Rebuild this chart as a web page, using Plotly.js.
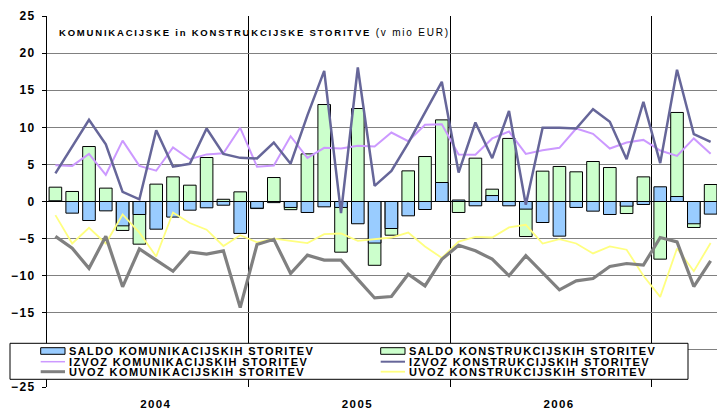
<!DOCTYPE html>
<html><head><meta charset="utf-8">
<script src="https://cdn.plot.ly/plotly-3.0.1.min.js"></script>
<style>
html,body{margin:0;padding:0;background:#fff;}
#chart{width:717px;height:411px;}
.main-svg text{letter-spacing:1.4px;}
.gtitle{letter-spacing:1.8px !important;}
</style></head><body><div id="chart"></div>
<script>
const months = ['2004-01','2004-02','2004-03','2004-04','2004-05','2004-06','2004-07','2004-08','2004-09','2004-10','2004-11','2004-12',
  '2005-01','2005-02','2005-03','2005-04','2005-05','2005-06','2005-07','2005-08','2005-09','2005-10','2005-11','2005-12',
  '2006-01','2006-02','2006-03','2006-04','2006-05','2006-06','2006-07','2006-08','2006-09','2006-10','2006-11','2006-12',
  '2007-01','2007-02','2007-03','2007-04'];
const yearLabels = ['2004','2005','2006'];
const boundaryYears = ['2005','2006','2007'];
const yTicks = [-25,-20,-15,-10,-5,0,5,10,15,20,25];

const saldoKom = [0.1,-1.57,-2.56,-1.26,-3.28,-1.75,-3.73,-2.1,-1.17,-0.85,-0.5,-4.3,
  -0.9,-0.15,-0.8,-1.48,-0.72,-0.8,-3.0,-5.6,-3.64,-1.93,-1.08,2.56,
  0.2,-0.58,0.8,-0.58,-1.03,-2.83,-4.67,-0.8,-1.3,-1.75,-0.63,-0.4,
  1.98,0.67,-3.0,-1.7];
const saldoKon = [1.93,1.35,7.41,1.8,-3.9,-5.75,2.34,3.32,2.2,5.93,0.3,1.3,
  -0.95,3.23,-1.1,6.42,13.07,-6.83,12.53,-8.6,-4.54,4.13,6.06,11.0,
  -1.48,5.84,1.66,8.5,-4.72,4.09,4.72,4.0,5.39,4.58,-1.62,3.32,
  -7.77,12.0,-3.5,2.29];
const izvozKom = [4.9,4.8,6.42,3.6,8.2,4.8,4.15,7.3,5.7,6.35,6.5,9.93,
  4.7,4.85,8.8,5.88,7.23,7.14,7.5,7.4,9.3,8.13,10.33,10.42,
  6.33,6.3,8.5,9.43,6.42,6.92,7.23,9.84,9.12,7.14,7.95,8.3,
  6.87,6.15,8.5,6.42];
const izvozKon = [3.8,7.4,11.0,7.7,1.3,0.3,9.6,4.7,5.08,9.84,6.42,5.88,
  5.8,7.95,5.1,11.6,17.6,-1.57,18.06,2.1,4.13,7.86,12.0,16.13,
  3.9,10.65,5.84,12.2,-0.45,9.93,9.93,9.84,12.44,10.74,5.7,13.43,
  5.17,17.75,9.07,8.04];
const uvozKom = [-4.7,-6.3,-9.0,-4.7,-11.5,-6.4,-7.9,-9.4,-6.8,-7.1,-6.65,-14.3,
  -5.8,-5.1,-9.7,-7.23,-7.9,-7.9,-10.5,-13.0,-12.8,-9.8,-11.37,-7.8,
  -5.9,-6.65,-7.77,-10.0,-7.3,-9.57,-11.9,-10.7,-10.38,-8.76,-8.36,-8.58,
  -4.85,-5.44,-11.46,-8.0];
const uvozKon = [-1.84,-5.66,-3.55,-5.66,-1.75,-4.2,-7.4,-1.48,-2.9,-3.8,-6.0,-4.54,
  -5.5,-5.0,-5.3,-5.6,-4.4,-4.31,-5.3,-5.08,-4.85,-4.18,-6.06,-7.6,
  -5.4,-4.76,-4.85,-3.5,-3.14,-5.66,-5.08,-5.66,-7.0,-6.06,-6.5,-10.0,
  -12.85,-6.33,-9.39,-5.6];

const seriesNames = ['SALDO KOMUNIKACIJSKIH STORITEV','SALDO KONSTRUKCIJSKIH STORITEV',
  'IZVOZ KOMUNIKACIJSKIH STORITEV','IZVOZ KONSTRUKCIJSKIH STORITEV',
  'UVOZ KOMUNIKACIJSKIH STORITEV','UVOZ KONSTRUKCIJSKIH STORITEV'];
const chartTitle = '<b>KOMUNIKACIJSKE in KONSTRUKCIJSKE STORITVE</b> <span style="font-size:10px">(v mio EUR)</span>';

const C = {saldoKom:'#99CCFF', saldoKon:'#CCFFCC', izvozKom:'#CC99FF', izvozKon:'#666699', uvozKom:'#808080', uvozKon:'#FFFF80'};

const xIdx = months.map((m,i)=>i);
const yearMid = yearLabels.map(y => (months.indexOf(y+'-01') + months.indexOf(y+'-12'))/2);
const yearBound = boundaryYears.map(y => months.indexOf(y+'-01') - 0.5);

// layout geometry helpers (pixel -> paper)
const W=717,H=411,L=47,R=0,T=16,B=24;
const pw=W-L-R, ph=H-T-B;
const px=(p)=>(p-L)/pw, py=(p)=>(H-B-p)/ph;

const traces = [
  {type:'bar', x:xIdx, y:saldoKon, name:seriesNames[1], width:0.75, marker:{color:C.saldoKon, line:{color:'#000', width:1}}, showlegend:false},
  {type:'bar', x:xIdx, y:saldoKom, name:seriesNames[0], width:0.75, marker:{color:C.saldoKom, line:{color:'#000', width:1}}, showlegend:false},
  {type:'scatter', mode:'lines', x:xIdx, y:izvozKom, name:seriesNames[2], line:{color:C.izvozKom, width:2}, showlegend:false},
  {type:'scatter', mode:'lines', x:xIdx, y:uvozKon, name:seriesNames[5], line:{color:C.uvozKon, width:1.8}, showlegend:false},
  {type:'scatter', mode:'lines', x:xIdx, y:uvozKom, name:seriesNames[4], line:{color:C.uvozKom, width:3.2}, showlegend:false},
  {type:'scatter', mode:'lines', x:xIdx, y:izvozKon, name:seriesNames[3], line:{color:C.izvozKon, width:2.5}, showlegend:false}
];

// custom compact legend (two columns, three rows)
const col = [{sx0:40.7, sx1:65, tx:68},{sx0:380.7, sx1:405, tx:407.5}];
const rowY = [351, 361.7, 371.7];
const rowGapEm = 10.5/11;
const shapes = [
  {type:'rect', xref:'paper', yref:'paper', x0:px(10), x1:px(688), y0:py(379.3), y1:py(343.3), fillcolor:'#fff', line:{color:'#000', width:1}, layer:'above'},
  {type:'rect', xref:'paper', yref:'paper', x0:px(col[0].sx0), x1:px(col[0].sx1), y0:py(354.3), y1:py(347.7), fillcolor:C.saldoKom, line:{color:'#000', width:1}, layer:'above'},
  {type:'rect', xref:'paper', yref:'paper', x0:px(col[1].sx0), x1:px(col[1].sx1), y0:py(354.3), y1:py(347.7), fillcolor:C.saldoKon, line:{color:'#000', width:1}, layer:'above'},
  {type:'line', xref:'paper', yref:'paper', x0:px(col[0].sx0), x1:px(col[0].sx1), y0:py(rowY[1]), y1:py(rowY[1]), line:{color:C.izvozKom, width:1.5}, layer:'above'},
  {type:'line', xref:'paper', yref:'paper', x0:px(col[1].sx0), x1:px(col[1].sx1), y0:py(rowY[1]), y1:py(rowY[1]), line:{color:C.izvozKon, width:2}, layer:'above'},
  {type:'line', xref:'paper', yref:'paper', x0:px(col[0].sx0), x1:px(col[0].sx1), y0:py(rowY[2]), y1:py(rowY[2]), line:{color:C.uvozKom, width:3}, layer:'above'},
  {type:'line', xref:'paper', yref:'paper', x0:px(col[1].sx0), x1:px(col[1].sx1), y0:py(rowY[2]), y1:py(rowY[2]), line:{color:C.uvozKon, width:1.8}, layer:'above'}
];
const annotations = [0,1].map(c=>({
  xref:'paper', yref:'paper', x:px(col[c].tx), y:py(rowY[0]-7), 
  text:[seriesNames[c], seriesNames[c+2], seriesNames[c+4]].join('<br>'),
  showarrow:false, xanchor:'left', yanchor:'top', align:'left', borderpad:0,
  font:{size:11, weight:'bold', color:'#000'}
}));

const layout = {
  width:W, height:H, margin:{l:L, r:R, t:T, b:B, pad:0},
  paper_bgcolor:'#fff', plot_bgcolor:'#fff',
  font:{family:'"Liberation Sans", Arial, sans-serif', color:'#000'},
  barmode:'overlay', showlegend:false,
  title:{text:chartTitle, xref:'paper', yref:'paper', x:px(59), xanchor:'left', y:py(33), yanchor:'middle', font:{size:9.5, color:'#000'}},
  xaxis:{range:[-0.5, 39.38], tickmode:'array', tickvals:yearMid, ticktext:yearLabels, ticks:'', showgrid:false, zeroline:false, showline:false,
    tickfont:{size:11.5, weight:'bold'}, ticklabelstandoff:8, ticklabelshift:8, fixedrange:true,
    minor:{tickmode:'array', tickvals:yearBound, showgrid:true, gridcolor:'#000', gridwidth:1, ticks:''}},
  yaxis:{range:[-25,25], tickmode:'array', tickvals:yTicks, ticks:'outside', ticklen:4, tickcolor:'#000', tickwidth:1,
    showline:true, linecolor:'#000', linewidth:1, showgrid:true, gridcolor:'#808080', gridwidth:1.2,
    zeroline:true, zerolinecolor:'#000', zerolinewidth:1, tickfont:{size:12, weight:'bold'}, ticklabelstandoff:4, fixedrange:true},
  shapes:shapes, annotations:annotations
};

Plotly.newPlot('chart', traces, layout, {staticPlot:true, displayModeBar:false}).then(gd=>{
  // tighten legend line spacing to match the compact reference legend
  gd.querySelectorAll('.annotation-text tspan.line').forEach(t=>{
    const d = parseFloat(t.getAttribute('dy')) || 0;
    t.setAttribute('dy', (d/1.3*rowGapEm)+'em');
  });
});
</script></body></html>
